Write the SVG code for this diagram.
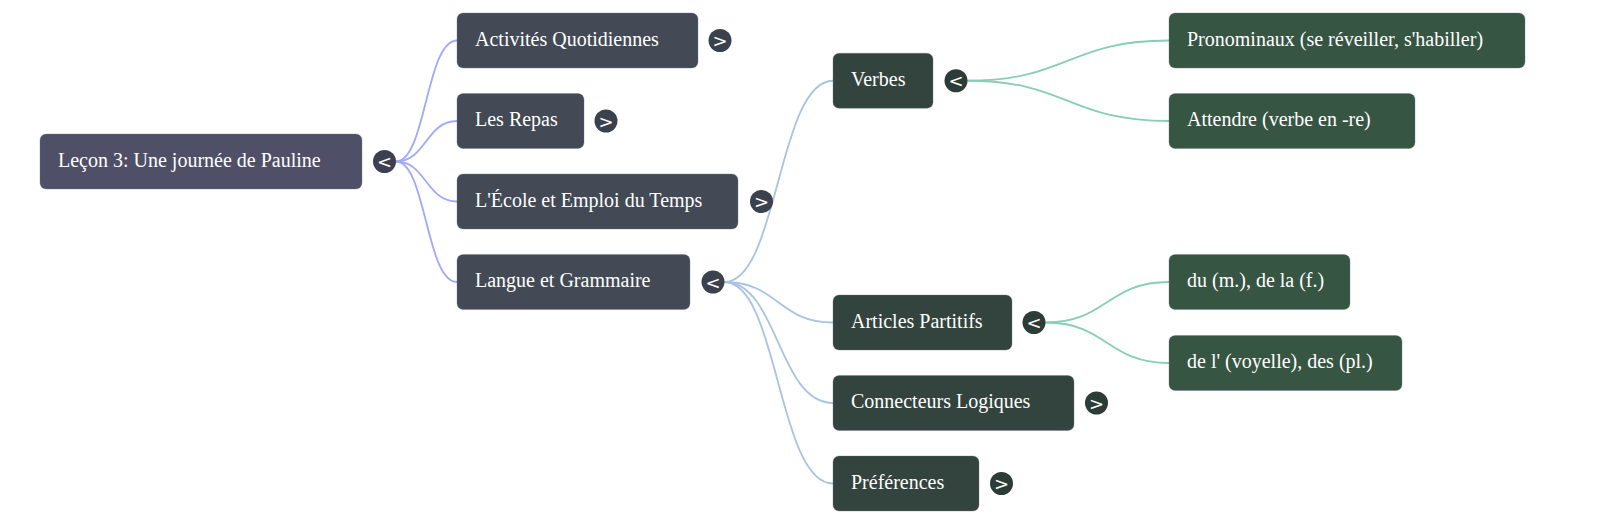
<svg xmlns="http://www.w3.org/2000/svg" width="1600" height="524" viewBox="0 0 1600 524">
<style>
.n rect{stroke:#6b7280;stroke-opacity:0.35;stroke-width:1}
.r0 rect{fill:#4f5068}
.r1 rect{fill:#434a55}
.r2 rect{fill:#33443e}
.r3 rect{fill:#375543}
.n text{font-family:"Liberation Serif","Times New Roman",serif;font-size:20px;fill:#ffffff}
.t circle{stroke:none}
.t text{font-family:"DejaVu Sans","Liberation Sans",sans-serif;font-size:18px;fill:#ffffff;text-anchor:middle;dominant-baseline:central}
.e0{fill:none;stroke:#a2a9f7;stroke-width:1.8}
.e1{fill:none;stroke:#a9c3e3;stroke-width:1.8}
.e2{fill:none;stroke:#86ceb6;stroke-width:1.8}
</style>
<g id="connectors">
<path class="e0" d="M396,161.5 C426,161.5 426,40.5 457,40.5"/>
<path class="e0" d="M396,161.5 C426,161.5 426,121 457,121"/>
<path class="e0" d="M396,161.5 C426,161.5 426,201.5 457,201.5"/>
<path class="e0" d="M396,161.5 C426,161.5 426,282 457,282"/>
<path class="e1" d="M724.5,282 C778,282 778,80.75 833,80.75"/>
<path class="e1" d="M724.5,282 C778,282 778,322.5 833,322.5"/>
<path class="e1" d="M724.5,282 C778,282 778,403 833,403"/>
<path class="e1" d="M724.5,282 C778,282 778,483.5 833,483.5"/>
<path class="e2" d="M967.5,80.75 C1068,80.75 1068,40.5 1169,40.5"/>
<path class="e2" d="M967.5,80.75 C1068,80.75 1068,121 1169,121"/>
<path class="e2" d="M1045.5,322.5 C1107,322.5 1107,282 1169,282"/>
<path class="e2" d="M1045.5,322.5 C1107,322.5 1107,363 1169,363"/>
</g>
<g id="root" class="n r0"><rect x="40" y="134" width="322" height="55" rx="6"/><text x="58" y="166.5">Leçon 3: Une journée de Pauline</text></g>
<g id="root-toggle" class="t"><circle cx="384.5" cy="161.5" r="11.5" fill="#3e4052"/><text x="384.5" y="161.5">&lt;</text></g>

<g id="activites" class="n r1"><rect x="457" y="13" width="241" height="55" rx="6"/><text x="475" y="45.5">Activités Quotidiennes</text></g>
<g id="activites-toggle" class="t"><circle cx="720" cy="40.5" r="11.5" fill="#3b424d"/><text x="720" y="40.5">&gt;</text></g>

<g id="repas" class="n r1"><rect x="457" y="93.5" width="127" height="55" rx="6"/><text x="475" y="126">Les Repas</text></g>
<g id="repas-toggle" class="t"><circle cx="606" cy="121" r="11.5" fill="#3b424d"/><text x="606" y="121">&gt;</text></g>

<g id="ecole" class="n r1"><rect x="457" y="174" width="281" height="55" rx="6"/><text x="475" y="206.5">L'École et Emploi du Temps</text></g>
<g id="ecole-toggle" class="t"><circle cx="761.5" cy="201.5" r="11.5" fill="#3b424d"/><text x="761.5" y="201.5">&gt;</text></g>

<g id="langue" class="n r1"><rect x="457" y="254.5" width="233" height="55" rx="6"/><text x="475" y="287">Langue et Grammaire</text></g>
<g id="langue-toggle" class="t"><circle cx="713" cy="282" r="11.5" fill="#3b424d"/><text x="713" y="282">&lt;</text></g>

<g id="verbes" class="n r2"><rect x="833" y="53.25" width="100" height="55" rx="6"/><text x="851" y="85.75">Verbes</text></g>
<g id="verbes-toggle" class="t"><circle cx="956" cy="80.75" r="11.5" fill="#2c3c37"/><text x="956" y="80.75">&lt;</text></g>

<g id="articles" class="n r2"><rect x="833" y="295" width="179" height="55" rx="6"/><text x="851" y="327.5">Articles Partitifs</text></g>
<g id="articles-toggle" class="t"><circle cx="1034" cy="322.5" r="11.5" fill="#2c3c37"/><text x="1034" y="322.5">&lt;</text></g>

<g id="connecteurs" class="n r2"><rect x="833" y="375.5" width="241" height="55" rx="6"/><text x="851" y="408">Connecteurs Logiques</text></g>
<g id="connecteurs-toggle" class="t"><circle cx="1096.5" cy="403" r="11.5" fill="#2c3c37"/><text x="1096.5" y="403">&gt;</text></g>

<g id="preferences" class="n r2"><rect x="833" y="456" width="146" height="55" rx="6"/><text x="851" y="488.5">Préférences</text></g>
<g id="preferences-toggle" class="t"><circle cx="1001.5" cy="483.5" r="11.5" fill="#2c3c37"/><text x="1001.5" y="483.5">&gt;</text></g>

<g id="pronominaux" class="n r3"><rect x="1169" y="13" width="356" height="55" rx="6"/><text x="1187" y="45.5">Pronominaux (se réveiller, s'habiller)</text></g>
<g id="attendre" class="n r3"><rect x="1169" y="93.5" width="246" height="55" rx="6"/><text x="1187" y="126">Attendre (verbe en -re)</text></g>
<g id="du" class="n r3"><rect x="1169" y="254.5" width="181" height="55" rx="6"/><text x="1187" y="287">du (m.), de la (f.)</text></g>
<g id="del" class="n r3"><rect x="1169" y="335.5" width="233" height="55" rx="6"/><text x="1187" y="368">de l' (voyelle), des (pl.)</text></g>
</svg>
